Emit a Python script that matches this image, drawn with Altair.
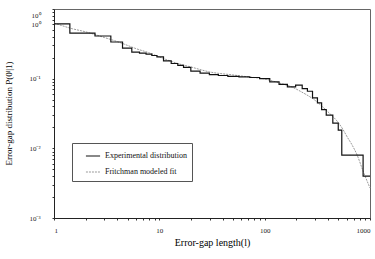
import altair as alt
import pandas as pd

# Experimental distribution (step curve)
exp_l = [1, 2, 3, 4, 5, 6, 7, 8, 9, 10, 12, 14, 16, 18, 22, 27, 33, 40, 50, 65, 80,
         100, 125, 150, 180, 215, 240, 270, 300, 335, 360, 410, 480, 520, 560, 850, 870, 1000]
exp_p = [0.61, 0.45, 0.41, 0.336, 0.275, 0.24, 0.232, 0.225, 0.215, 0.205, 0.18, 0.165,
         0.155, 0.145, 0.128, 0.12, 0.114, 0.111, 0.108, 0.106, 0.104,
         0.100, 0.090, 0.083, 0.076, 0.081, 0.072, 0.066, 0.053, 0.045, 0.036, 0.030,
         0.023, 0.0183, 0.008, 0.008, 0.004, 0.004]

# Fritchman modeled fit (smooth curve)
fit_l = [1, 1.5, 2, 3, 4, 5, 6, 8, 10, 15, 20, 30, 50, 70, 100, 140, 181, 226, 300,
         358, 420, 486, 550, 607, 680, 755, 860, 1000]
fit_p = [0.63, 0.52, 0.47, 0.39, 0.34, 0.30, 0.27, 0.235, 0.205, 0.165, 0.147, 0.125,
         0.113, 0.106, 0.099, 0.086, 0.076, 0.064, 0.049, 0.039, 0.031, 0.0247, 0.019,
         0.0146, 0.011, 0.0080, 0.0047, 0.0027]

series_names = ["Experimental distribution", "Fritchman modeled fit"]

x_ticks = [m * d for d in [1, 10, 100] for m in range(1, 10)] + [1000]
y_ticks = [m * d for d in [0.001, 0.01, 0.1] for m in range(1, 10)] + [1]

df_exp = pd.DataFrame({"l": exp_l, "p": exp_p, "series": series_names[0]})
df_fit = pd.DataFrame({"l": fit_l, "p": fit_p, "series": series_names[1]})

FONT = "Liberation Serif"

xscale = alt.Scale(type="log", domain=[1, 1000], nice=False)
yscale = alt.Scale(type="log", domain=[0.001, 1], nice=False)

xaxis = alt.Axis(
    values=x_ticks,
    labelExpr="indexof([1,10,100,1000], datum.value) >= 0 ? '' + datum.value : ''",
    title="Error-gap length(l)",
    titleFont=FONT, titleFontSize=10, titleFontWeight="normal", titleColor="#000",
    titleX=158, titleY=24, titleBaseline="middle",
    labelFont=FONT, labelFontSize=7, labelColor="#222", labelPadding=6,
    tickSize=2, tickColor="#333", domainColor="#222", grid=False,
)
yaxis = alt.Axis(
    values=y_ticks,
    labelExpr=("datum.value > 0.5 ? '10⁰' : abs(datum.value - 0.1) < 1e-9 ? '10⁻¹' : "
               "abs(datum.value - 0.01) < 1e-10 ? '10⁻²' : abs(datum.value - 0.001) < 1e-11 ? '10⁻³' : ''"),
    title="Error-gap distribution P(0ˡ|1)",
    titleFont=FONT, titleFontSize=9, titleFontWeight="normal", titleColor="#000",
    titleX=-46, titleY=104, titleAngle=-90, titleAlign="center", titleBaseline="middle",
    labelFont=FONT, labelFontSize=7, labelColor="#222", labelPadding=12,
    tickSize=2, tickColor="#333", domainColor="#222", grid=False,
)

color = alt.Color(
    "series:N",
    scale=alt.Scale(domain=series_names, range=["#111111", "#9a9a9a"]),
    legend=alt.Legend(
        title=None, orient="none", legendX=18, legendY=134,
        strokeColor="#555", padding=5, rowPadding=4,
        symbolType="stroke", symbolSize=200, symbolOffset=8,
        symbolStrokeWidth=1.2,
        labelFont=FONT, labelFontSize=8, labelColor="#111", labelOffset=4,
    ),
)
dash = alt.StrokeDash(
    "series:N",
    scale=alt.Scale(domain=series_names, range=[[1, 0], [2, 1]]),
    legend=None,
)

exp_line = alt.Chart(df_exp).mark_line(interpolate="step", strokeWidth=1.2).encode(
    x=alt.X("l:Q", scale=xscale, axis=xaxis),
    y=alt.Y("p:Q", scale=yscale, axis=yaxis),
    color=color, strokeDash=dash,
)
fit_line = alt.Chart(df_fit).mark_line(interpolate="monotone", strokeWidth=1).encode(
    x=alt.X("l:Q", scale=xscale, axis=xaxis),
    y=alt.Y("p:Q", scale=yscale, axis=yaxis),
    color=color, strokeDash=dash,
)

chart = alt.layer(fit_line, exp_line).properties(
    width=316, height=209,
    padding={"left": 54, "top": 9, "right": 5, "bottom": 41},
    autosize=alt.AutoSizeParams(type="none"),
    background="white",
).configure_view(stroke="#666", strokeWidth=1)

chart.save("out.html", embed_options={"renderer": "svg", "actions": False})
